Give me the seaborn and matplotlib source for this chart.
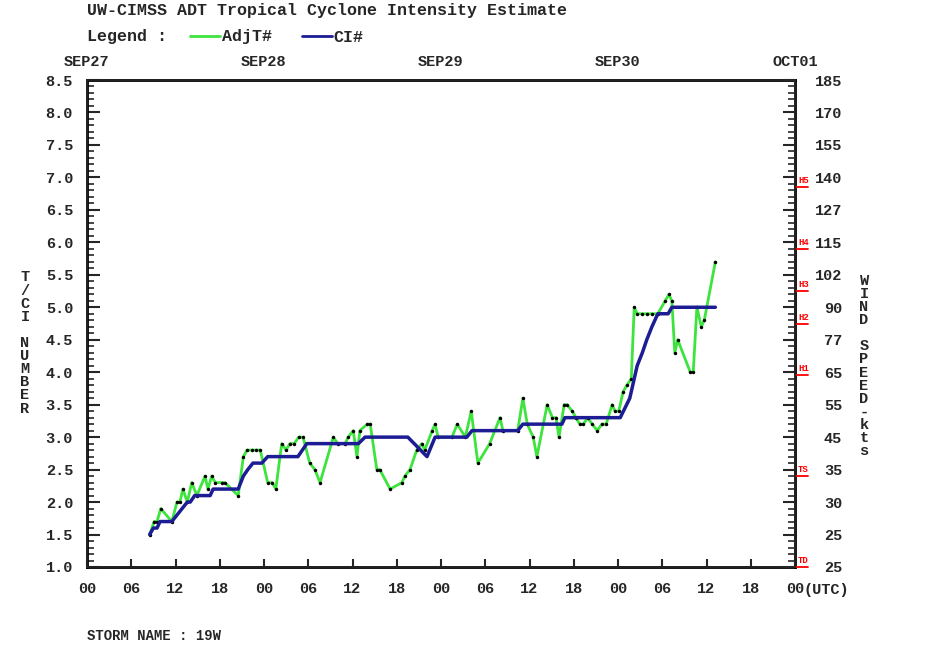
import numpy as np
import matplotlib
matplotlib.use("Agg")
import matplotlib.pyplot as plt
from matplotlib.lines import Line2D
import seaborn as sns

sns.set_theme(style="white")
plt.rcParams['font.family'] = ['Liberation Mono', 'DejaVu Sans Mono']
plt.rcParams['font.weight'] = 'bold'

# ------------------------------
# Data (hours after SEP27 00UTC)
# ------------------------------
adj_hours = [8.5, 9.1, 9.5, 10.0, 11.5, 12.2, 12.6, 13.0, 13.6, 14.2, 14.9, 16.0, 16.4,
             16.9, 17.4, 18.3, 18.7, 20.5, 21.2, 21.7, 22.4, 22.9, 23.5, 24.5, 25.1,
             25.6, 26.4, 27.0, 27.5, 28.1, 28.7, 29.3, 30.2, 30.9, 31.6, 33.4, 34.0,
             35.0, 35.4, 36.1, 36.6, 37.0, 38.0, 38.4, 39.3, 39.7, 41.1, 42.7, 43.1,
             43.8, 44.7, 45.4, 45.8, 46.8, 47.2, 47.6, 49.5, 50.2, 51.3, 52.1, 53.0,
             54.6, 56.0, 56.4, 58.4, 59.1, 59.7, 60.5, 61.0, 62.4, 63.1, 63.6, 64.0,
             64.7, 65.1, 65.8, 66.3, 66.8, 67.3, 67.9, 68.5, 69.2, 69.8, 70.4, 71.2,
             71.6, 72.1, 72.7, 73.2, 73.8, 74.2, 74.6, 75.3, 75.9, 76.6, 77.4, 78.4,
             78.9, 79.3, 79.7, 80.1, 81.8, 82.2, 82.7, 83.3, 83.7, 85.2]
adj_values = [1.5, 1.7, 1.7, 1.9, 1.7, 2.0, 2.0, 2.2, 2.0, 2.3, 2.1, 2.4, 2.2,
              2.4, 2.3, 2.3, 2.3, 2.1, 2.7, 2.8, 2.8, 2.8, 2.8, 2.3, 2.3,
              2.2, 2.9, 2.8, 2.9, 2.9, 3.0, 3.0, 2.6, 2.5, 2.3, 3.0, 2.9,
              2.9, 3.0, 3.1, 2.7, 3.1, 3.2, 3.2, 2.5, 2.5, 2.2, 2.3, 2.4,
              2.5, 2.8, 2.9, 2.8, 3.1, 3.2, 3.0, 3.0, 3.2, 3.0, 3.4, 2.6,
              2.9, 3.3, 3.1, 3.1, 3.6, 3.2, 3.0, 2.7, 3.5, 3.3, 3.3, 3.0,
              3.5, 3.5, 3.4, 3.3, 3.2, 3.2, 3.3, 3.2, 3.1, 3.2, 3.2, 3.5,
              3.4, 3.4, 3.7, 3.8, 3.9, 5.0, 4.9, 4.9, 4.9, 4.9, 4.9, 5.1,
              5.2, 5.1, 4.3, 4.5, 4.0, 4.0, 5.0, 4.7, 4.8, 5.7]

ci_hours = [8.5, 9.0, 9.5, 9.9, 11.5, 12.2, 12.9, 13.6, 14.0, 14.6, 16.7, 17.1, 20.5,
            21.2, 21.8, 22.5, 23.7, 24.5, 28.6, 29.8, 36.8, 37.7, 43.5, 46.1, 47.2,
            51.5, 52.2, 58.4, 59.1, 64.4, 64.8, 72.3, 73.6, 74.0, 74.6, 75.3, 75.9,
            76.6, 77.4, 78.8, 79.3, 85.2]
ci_values = [1.5, 1.6, 1.6, 1.7, 1.7, 1.8, 1.9, 2.0, 2.0, 2.1, 2.1, 2.2, 2.2,
             2.4, 2.5, 2.6, 2.6, 2.7, 2.7, 2.9, 2.9, 3.0, 3.0, 2.7, 3.0,
             3.0, 3.1, 3.1, 3.2, 3.2, 3.3, 3.3, 3.6, 3.8, 4.1, 4.3, 4.5,
             4.7, 4.9, 4.9, 5.0, 5.0]

ci_ticks = [1.0, 1.5, 2.0, 2.5, 3.0, 3.5, 4.0, 4.5, 5.0, 5.5, 6.0, 6.5, 7.0, 7.5, 8.0, 8.5]
wind_labels = ["25", "25", "30", "35", "45", "55", "65", "77", "90", "102", "115",
               "127", "140", "155", "170", "185"]
hour_labels = ["00", "06", "12", "18"] * 4 + ["00"]
day_labels = ["SEP27", "SEP28", "SEP29", "SEP30", "OCT01"]
cat_labels = ["TD", "TS", "H1", "H2", "H3", "H4", "H5"]
cat_ci = [1.0, 2.4, 3.95, 4.75, 5.25, 5.9, 6.85]

GREEN = "#3de43d"
BLUE = "#1c1c94"

fig = plt.figure(figsize=(9.36, 6.69), dpi=100)
ax = fig.add_axes([87 / 936, 102 / 669, 708 / 936, 487 / 669])

sns.lineplot(x=adj_hours, y=adj_values, color=GREEN, lw=2, marker="o", markersize=2.5,
             markerfacecolor="black", markeredgewidth=0, estimator=None, sort=False,
             ax=ax, legend=False)
sns.lineplot(x=ci_hours, y=ci_values, color=BLUE, lw=2.5, estimator=None, sort=False,
             ax=ax, legend=False)

ax.set_xlim(0, 96)
ax.set_ylim(1.0, 8.5)
for s in ax.spines.values():
    s.set_color("black")
    s.set_linewidth(2)

ax.set_xticks(np.arange(0, 97, 6))
ax.set_xticklabels(hour_labels, fontsize=11)
ax.tick_params(axis="x", direction="in", length=6, width=1.5, pad=11, bottom=True, top=False)
ax.annotate("(UTC)", xy=(1.0, 0), xycoords="axes fraction", xytext=(8, -23),
            textcoords="offset pixels", fontsize=11, ha="left", va="center",
            fontweight="bold")

ax.set_yticks(ci_ticks)
ax.set_yticklabels([f"{v:.1f}" for v in ci_ticks], fontsize=11)
ax.set_yticks(np.arange(1.0, 8.51, 0.1), minor=True)
ax.tick_params(axis="y", which="major", direction="in", length=9, width=1.5, pad=10, left=True)
ax.tick_params(axis="y", which="minor", direction="in", length=5, width=1.2, left=True)

ax2 = ax.twinx()
ax2.set_ylim(1.0, 8.5)
ax2.set_yticks(ci_ticks)
ax2.set_yticklabels(wind_labels, fontsize=11, ha="right")
ax2.set_yticks(np.arange(1.0, 8.51, 0.1), minor=True)
ax2.tick_params(axis="y", which="major", direction="in", length=9, width=1.5, pad=34, right=True)
ax2.tick_params(axis="y", which="minor", direction="in", length=5, width=1.2, right=True)
ax2.grid(False)

top = ax.secondary_xaxis("top")
top.set_xticks(np.arange(0, 97, 24))
top.set_xticklabels(day_labels, fontsize=11)
top.tick_params(length=0, pad=8)

# red intensity category markers
for lab, v in zip(cat_labels, cat_ci):
    ax2.plot([1.0, 1.018], [v, v], transform=ax2.get_yaxis_transform(), color="red",
             lw=1.3, clip_on=False)
    ax2.annotate(lab, xy=(1.0, v), xycoords=ax2.get_yaxis_transform(), xytext=(3, 2),
                 textcoords="offset pixels", color="red", fontsize=6.5, ha="left",
                 va="bottom")

# stacked axis titles
fig.text(25 / 936, 1 - 343 / 669, "\n".join("T/CI NUMBER"), fontsize=11, ha="center",
         va="center", linespacing=0.92)
fig.text(864 / 936, 1 - 366 / 669, "\n".join("WIND SPEED-kts"), fontsize=11, ha="center",
         va="center", linespacing=0.92)

fig.text(87 / 936, 1 - 11 / 669, "UW-CIMSS ADT Tropical Cyclone Intensity Estimate",
         fontsize=12, ha="left", va="center")
fig.text(87 / 936, 1 - 37 / 669, "Legend :", fontsize=12, ha="left", va="center")
handles = [Line2D([], [], color=GREEN, lw=2), Line2D([], [], color=BLUE, lw=2)]
fig.legend(handles, ["AdjT#", "CI#"], loc="center left",
           bbox_to_anchor=(190 / 936, 1 - 37 / 669), ncol=2, frameon=False, fontsize=12,
           borderpad=0, borderaxespad=0, handlelength=1.8, handletextpad=0.1,
           columnspacing=1.8)
fig.text(87 / 936, 1 - 636 / 669, "STORM NAME : 19W", fontsize=10, ha="left", va="center")

fig.savefig("out.png", dpi=100, facecolor="white")
